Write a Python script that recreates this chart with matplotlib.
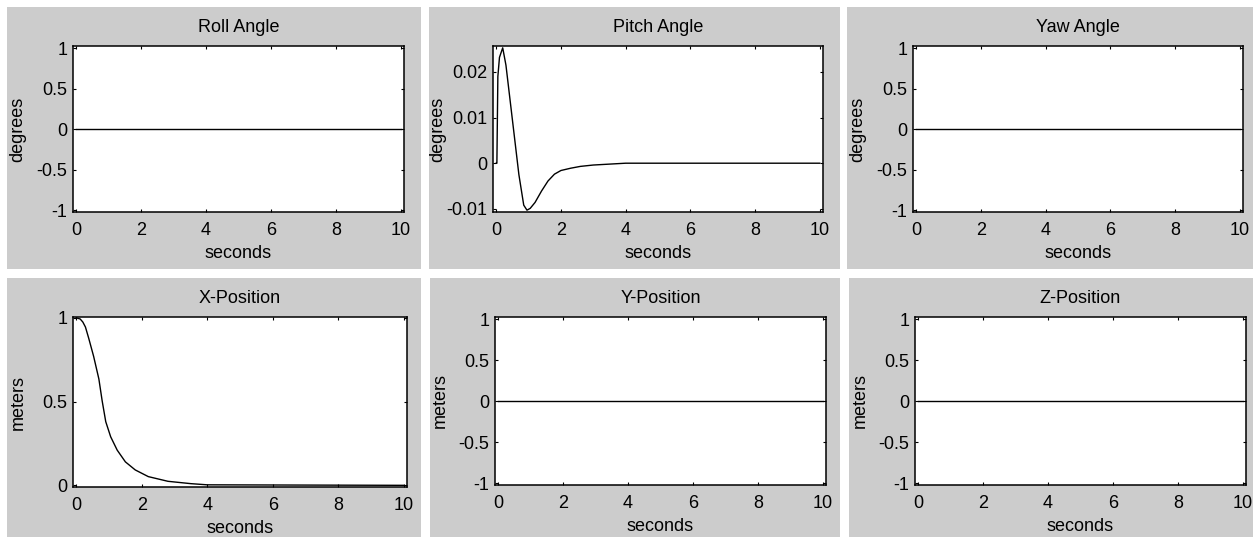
import matplotlib
matplotlib.use("Agg")
import matplotlib.pyplot as plt
from matplotlib.patches import Rectangle

plt.rcParams['font.family'] = ['Liberation Sans', 'DejaVu Sans']

# ---------------- data ----------------
titles = ["Roll Angle", "Pitch Angle", "Yaw Angle", "X-Position", "Y-Position", "Z-Position"]
ylabels = ["degrees", "degrees", "degrees", "meters", "meters", "meters"]
xlabel = "seconds"

x_ticks = [0, 2, 4, 6, 8, 10]
x_tick_labels = ["0", "2", "4", "6", "8", "10"]

unit_ticks = [-1, -0.5, 0, 0.5, 1]
unit_tick_labels = ["-1", "-0.5", "0", "0.5", "1"]
pitch_ticks = [-0.01, 0, 0.01, 0.02]
pitch_tick_labels = ["-0.01", "0", "0.01", "0.02"]
xpos_ticks = [0, 0.5, 1]
xpos_tick_labels = ["0", "0.5", "1"]

t_flat = [0, 10]
roll = [0, 0]
yaw = [0, 0]
ypos = [0, 0]
zpos = [0, 0]

t_pitch = [0, 0.02, 0.05, 0.1, 0.2, 0.3, 0.5, 0.7, 0.85, 0.95, 1.05, 1.2, 1.4,
           1.6, 1.8, 2.0, 2.3, 2.6, 3.0, 3.5, 4.0, 10]
pitch = [0, 0.0, 0.019, 0.0232, 0.0253, 0.0215, 0.0095, -0.0025, -0.0092, -0.0103,
         -0.0099, -0.0086, -0.0061, -0.0039, -0.0024, -0.0016, -0.0011, -0.0007,
         -0.0004, -0.0002, 0.0, 0.0]

t_xpos = [0, 0.12, 0.2, 0.28, 0.38, 0.53, 0.69, 0.79, 0.9, 1.05, 1.25, 1.5, 1.8,
          2.2, 2.8, 3.5, 4.0, 10]
xpos = [1.0, 0.993, 0.975, 0.945, 0.878, 0.77, 0.635, 0.505, 0.38, 0.29, 0.21,
        0.14, 0.092, 0.052, 0.024, 0.01, 0.003, 0.0]

# ---------------- layout ----------------
W, H = 1253, 537
fig = plt.figure(figsize=(W / 100, H / 100), dpi=100, facecolor="white")

panels = [(7, 7, 421, 269), (429, 7, 840, 269), (847, 7, 1253, 269),
          (7, 278, 421, 537), (430, 278, 840, 537), (849, 278, 1253, 537)]
axes_px = [(73, 46, 404, 212), (493, 46, 823, 212), (913, 46, 1243, 212),
           (73, 317, 407, 487), (495, 317, 826, 485), (915, 317, 1246, 485)]

def frac(l, t, r, b):
    return [l / W, 1 - b / H, (r - l) / W, (b - t) / H]

for (l, t, r, b) in panels:
    fig.patches.append(Rectangle((l / W, 1 - b / H), (r - l) / W, (b - t) / H,
                                 transform=fig.transFigure, facecolor="#cccccc",
                                 edgecolor="none", zorder=-10))

series = [(t_flat, roll), (t_pitch, pitch), (t_flat, yaw),
          (t_xpos, xpos), (t_flat, ypos), (t_flat, zpos)]
yinfo = [(unit_ticks, unit_tick_labels, (-1.02, 1.03)),
         (pitch_ticks, pitch_tick_labels, (-0.0107, 0.0257)),
         (unit_ticks, unit_tick_labels, (-1.02, 1.03)),
         (xpos_ticks, xpos_tick_labels, (-0.01, 1.005)),
         (unit_ticks, unit_tick_labels, (-1.02, 1.03)),
         (unit_ticks, unit_tick_labels, (-1.02, 1.03))]

fs = 13
for i in range(6):
    l, t, r, b = axes_px[i]
    ax = fig.add_axes(frac(l, t, r, b), zorder=1)
    ax.set_facecolor("white")
    tx, ty = series[i]
    ax.plot(tx, ty, color="black", lw=1.0)
    ax.set_xlim(-0.1, 10.1)
    ticks, labels, ylim = yinfo[i]
    ax.set_ylim(*ylim)
    ax.set_xticks(x_ticks)
    ax.set_xticklabels(x_tick_labels)
    ax.set_yticks(ticks)
    ax.set_yticklabels(labels)
    ax.tick_params(direction="in", top=True, right=True, length=2.5, width=0.8,
                   labelsize=fs, colors="black", pad=4)
    ax.tick_params(axis="x", pad=7.5)
    for s in ax.spines.values():
        s.set_linewidth(1.1)
        s.set_color("black")
    ax.set_title(titles[i], fontsize=fs, pad=10)
    ax.set_xlabel(xlabel, fontsize=fs, va="center")
    ax.set_ylabel(ylabels[i], fontsize=fs, va="center")
    ax.xaxis.set_label_coords(0.5, -41.5 / (b - t))
    ax.yaxis.set_label_coords(-55.0 / (r - l), 0.5)

fig.savefig("out.png", dpi=100, facecolor="white")
